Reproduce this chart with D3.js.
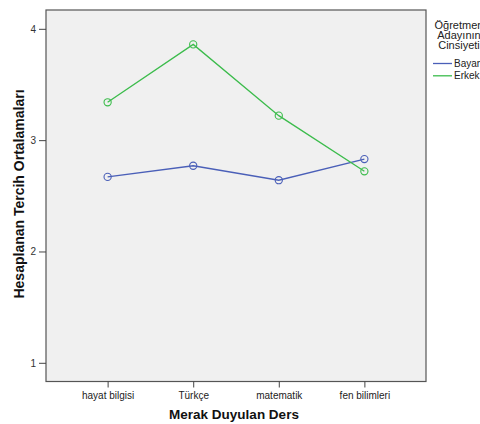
<!DOCTYPE html>
<html><head><meta charset="utf-8">
<script src="https://cdn.jsdelivr.net/npm/d3@7"></script>
<style>body{margin:0;background:#fff}svg{display:block}text{font-family:"Liberation Sans",Arial,sans-serif}</style>
</head><body><svg id="c" width="480" height="424"></svg>
<script>
const categories = ["hayat bilgisi","Türkçe","matematik","fen bilimleri"];
const bayar = [2.67, 2.77, 2.64, 2.83];
const erkek = [3.34, 3.86, 3.22, 2.72];
const seriesNames = ["Bayan","Erkek"];
const yTicks = [1,2,3,4];
const legendTitle = ["Öğretmen","Adayının","Cinsiyeti"];
const colors = ["#4a5fb8","#3cbc4c"];

const svg = d3.select("#c");
const L=46, R=426, T=10, B=381.5;
const x = d3.scalePoint().domain(categories).range([L,R]).padding(0.72);
const y = d3.scaleLinear().domain([0.832,4.169]).range([B,T]);

svg.append("rect").attr("x",L).attr("y",T).attr("width",R-L).attr("height",B-T)
  .attr("fill","#f0f0f0").attr("stroke","#555").attr("stroke-width",1.2);

const ya = svg.append("g").attr("transform",`translate(${L},0)`)
  .call(d3.axisLeft(y).tickValues(yTicks).tickSize(7).tickFormat(d3.format("d")));
ya.select(".domain").remove();
ya.selectAll("line").attr("stroke","#444");
ya.selectAll("text").attr("fill","#333").style("font-size","10px");

const xa = svg.append("g").attr("transform",`translate(0,${B})`)
  .call(d3.axisBottom(x).tickSize(6).tickPadding(4));
xa.select(".domain").remove();
xa.selectAll("line").attr("stroke","#444");
xa.selectAll("text").attr("fill","#222").style("font-size","10px");

svg.append("text").attr("x",234).attr("y",419).attr("text-anchor","middle")
  .style("font-size","13.5px").style("font-weight","bold").attr("fill","#111").text("Merak Duyulan Ders");
svg.append("text").attr("transform","translate(24,194) rotate(-90)").attr("text-anchor","middle")
  .style("font-size","14px").style("font-weight","bold").attr("fill","#111").text("Hesaplanan Tercih Ortalamaları");

const line = d3.line().x((d,i)=>x(categories[i])).y(d=>y(d));
[bayar, erkek].forEach((s,k)=>{
  svg.append("path").datum(s).attr("d",line).attr("fill","none").attr("stroke",colors[k]).attr("stroke-width",1.3);
  svg.selectAll(null).data(s).enter().append("circle")
    .attr("cx",(d,i)=>x(categories[i])).attr("cy",d=>y(d)).attr("r",3.6)
    .attr("fill","none").attr("stroke",colors[k]).attr("stroke-width",1.1);
});

legendTitle.forEach((t,i)=>{
  svg.append("text").attr("x",459).attr("y",28.5+i*10.3).attr("text-anchor","middle")
    .style("font-size","11px").attr("fill","#222").text(t);
});
seriesNames.forEach((n,i)=>{
  const yy = 63.5 + i*12.3;
  svg.append("line").attr("x1",433).attr("x2",452).attr("y1",yy).attr("y2",yy).attr("stroke",colors[i]).attr("stroke-width",1.3);
  svg.append("text").attr("x",454).attr("y",yy+3.5).style("font-size","10px").attr("fill","#222").text(n);
});
</script></body></html>
